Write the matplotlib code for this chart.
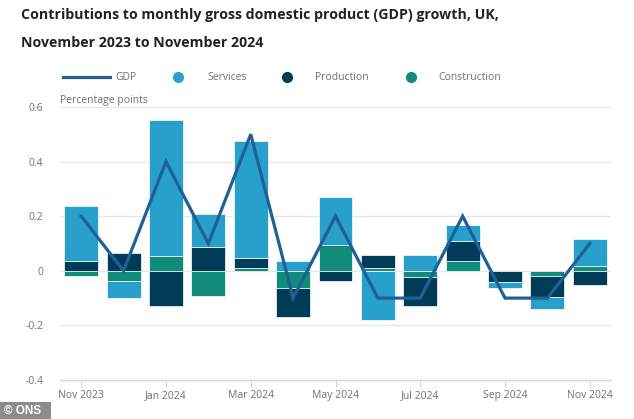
import matplotlib
matplotlib.use("Agg")
import matplotlib.pyplot as plt
from matplotlib.lines import Line2D
from matplotlib.patches import Rectangle
import numpy as np

plt.rcParams['font.family'] = ['Open Sans', 'DejaVu Sans']

months = ["Nov 2023", "Dec 2023", "Jan 2024", "Feb 2024", "Mar 2024", "Apr 2024",
          "May 2024", "Jun 2024", "Jul 2024", "Aug 2024", "Sep 2024", "Oct 2024", "Nov 2024"]
gdp = [0.2, 0.0, 0.4, 0.1, 0.5, -0.1, 0.2, -0.1, -0.1, 0.2, -0.1, -0.1, 0.1]
services = [0.2, -0.062, 0.5, 0.119, 0.43, 0.037, 0.174, -0.18, 0.057, 0.058, -0.023, -0.044, 0.1]
production = [0.037, 0.066, -0.13, 0.088, 0.036, -0.107, -0.039, 0.047, -0.108, 0.072, -0.04, -0.075, -0.052]
construction = [-0.02, -0.038, 0.054, -0.092, 0.01, -0.062, 0.095, 0.01, -0.022, 0.037, 0.0, -0.02, 0.018]
tick_labels = ["Nov 2023", "Jan 2024", "Mar 2024", "May 2024", "Jul 2024", "Sep 2024", "Nov 2024"]
yticks = [-0.4, -0.2, 0, 0.2, 0.4, 0.6]

C_SERV = "#27A0CC"
C_PROD = "#003C57"
C_CONS = "#118C7B"
C_GDP = "#206095"
GRID = "#e6e6e6"
TXT = "#707070"

W, H = 634, 419
fig = plt.figure(figsize=(W/100, H/100), dpi=100)
ax = fig.add_axes([60/W, (H-380)/H, 551/W, (380-107)/H])

x = np.arange(len(months))
pos_bottom = np.zeros(len(months))
neg_bottom = np.zeros(len(months))
for vals, col in [(construction, C_CONS), (production, C_PROD), (services, C_SERV)]:
    v = np.array(vals, dtype=float)
    bottoms = np.where(v >= 0, pos_bottom, neg_bottom)
    ax.bar(x, v, bottom=bottoms, width=0.8, color=col, edgecolor="white", linewidth=0.5, zorder=2)
    pos_bottom = pos_bottom + np.where(v > 0, v, 0)
    neg_bottom = neg_bottom + np.where(v < 0, v, 0)

ax.plot(x, gdp, color=C_GDP, linewidth=2.3, zorder=3, solid_joinstyle='miter')

ax.set_xlim(-0.5, len(months) - 0.5)
ax.set_ylim(-0.4, 0.6)
ax.set_yticks(yticks)
ax.set_yticklabels(["-0.4", "-0.2", "0", "0.2", "0.4", "0.6"])
tick_pos = [months.index(t) for t in tick_labels]
ax.set_xticks(tick_pos)
ax.set_xticklabels(tick_labels)

for yv in yticks[1:]:
    ax.axhline(yv, color=GRID, linewidth=1, zorder=1)

for s in ["top", "right", "left"]:
    ax.spines[s].set_visible(False)
ax.spines["bottom"].set_color("#ccd6eb")
ax.spines["bottom"].set_linewidth(1)
ax.tick_params(axis="y", length=0, pad=12, labelsize=7.5, labelcolor=TXT)
ax.tick_params(axis="x", length=5, color="#ccd6eb", pad=2, labelsize=7.5, labelcolor=TXT)

# Title
fig.text(21/W, 1 - 15/H, "Contributions to monthly gross domestic product (GDP) growth, UK,",
         fontsize=10.2, fontweight="bold", color="#222222", va="center", ha="left")
fig.text(21/W, 1 - 43/H, "November 2023 to November 2024",
         fontsize=10.2, fontweight="bold", color="#222222", va="center", ha="left")

# Legend
ly = 1 - 77.5/H
fig.add_artist(Line2D([63/W, 110/W], [ly, ly], color=C_GDP, linewidth=2.3, transform=fig.transFigure))
fig.text(115/W, ly, "GDP", fontsize=7.5, color=TXT, va="center", ha="left")
for cx, tx, col, lab in [(178, 207, C_SERV, "Services"), (287, 315, C_PROD, "Production"),
                         (411, 438, C_CONS, "Construction")]:
    fig.add_artist(Line2D([cx/W], [ly], marker="o", markersize=7, color=col, linestyle="none",
                          transform=fig.transFigure))
    fig.text(tx/W, ly, lab, fontsize=7.5, color=TXT, va="center", ha="left")

fig.text(60/W, 1 - 100/H, "Percentage points", fontsize=7.5, color=TXT, va="center", ha="left")

# ONS badge
fig.add_artist(Rectangle((0, 0), 51/W, (H-402)/H, facecolor="#8c8c8c", edgecolor="none",
                         transform=fig.transFigure))
fig.text(4/W, 1 - 410.5/H, "© ONS", fontsize=8.5, fontweight="bold", color="white",
         va="center", ha="left", family=["Liberation Sans", "DejaVu Sans"])

fig.savefig("out.png", dpi=100, facecolor="white")
